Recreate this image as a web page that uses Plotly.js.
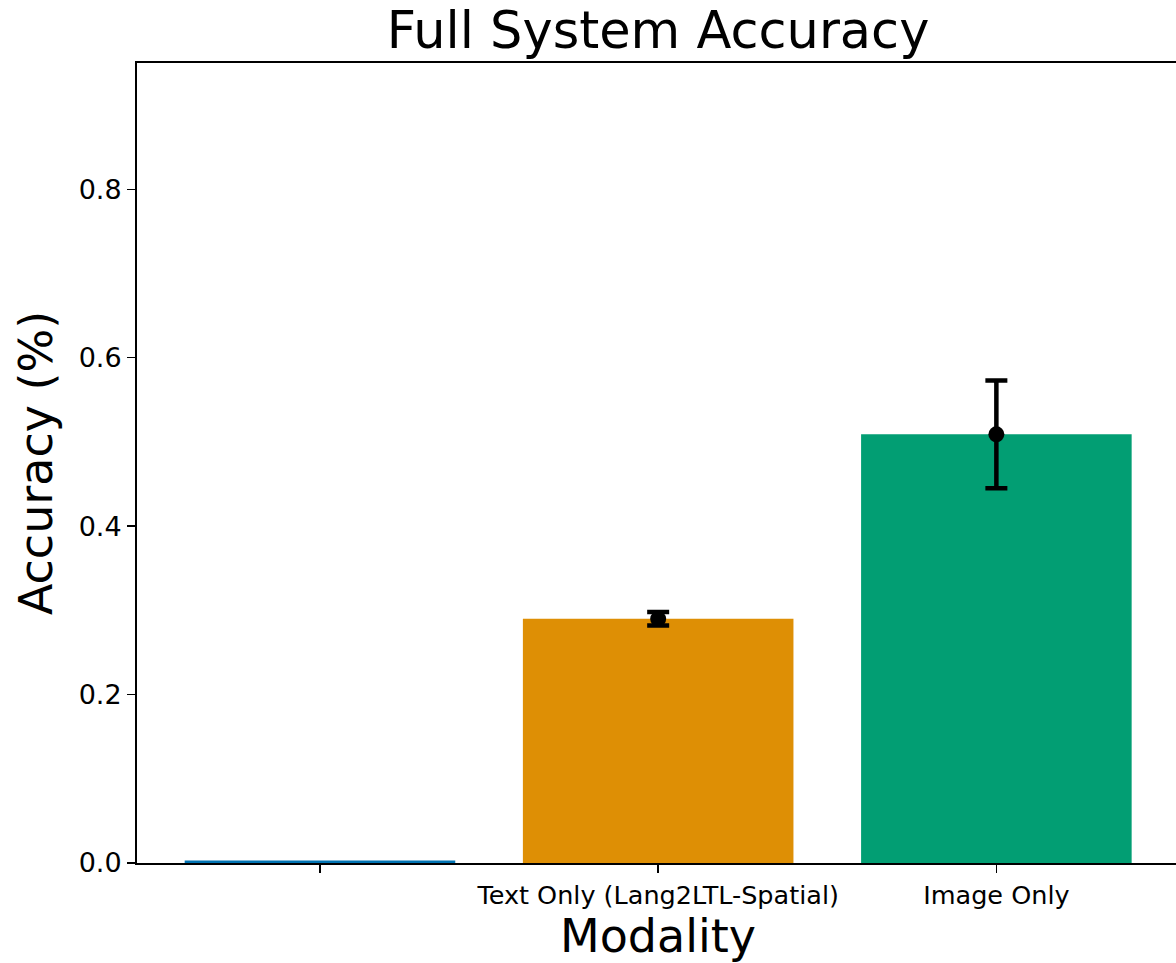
<!DOCTYPE html>
<html>
<head>
<meta charset="utf-8">
<script src="https://cdn.plot.ly/plotly-3.0.1.min.js"></script>
<style>
html,body{margin:0;padding:0;overflow:hidden;background:#fff;}
#chart{width:1180px;height:963px;}
</style>
</head>
<body>
<div id="chart"></div>
<script>
const categories = ["", "Text Only (Lang2LTL-Spatial)", "Image Only"];
const accuracy = [0.003, 0.290, 0.509];
const errors = [null, 0.008, 0.064];
const barColors = ["#0173b2", "#de8f05", "#029e73"];

const xIdx = categories.map((c, i) => i);
const errIdx = xIdx.filter(i => errors[i] !== null);

const font = "DejaVu Sans, sans-serif";

const traces = [
  {
    type: "bar",
    x: xIdx,
    y: accuracy,
    width: 0.8,
    marker: {color: barColors, line: {width: 0}},
    hoverinfo: "skip",
    showlegend: false
  },
  {
    type: "scatter",
    mode: "markers",
    x: errIdx,
    y: errIdx.map(i => accuracy[i]),
    marker: {color: "#000", size: 16},
    error_y: {
      type: "data",
      array: errIdx.map(i => errors[i]),
      visible: true,
      color: "#000",
      thickness: 4.5,
      width: 11
    },
    showlegend: false
  }
];

const layout = {
  width: 1180,
  height: 963,
  margin: {l: 137, r: 1, t: 63, b: 100},
  paper_bgcolor: "#fff",
  plot_bgcolor: "#fff",
  font: {family: font, color: "#000"},
  title: {
    text: "Full System Accuracy",
    font: {family: font, size: 51, color: "#000"},
    x: 0.5, xanchor: "center", xref: "paper",
    y: 0.969, yanchor: "middle", yref: "container"
  },
  xaxis: {
    range: [-0.541, 2.54],
    tickmode: "array",
    tickvals: xIdx,
    ticktext: categories,
    ticks: "outside",
    ticklen: 8,
    tickwidth: 1.5,
    tickcolor: "#000",
    tickfont: {family: font, size: 25.5, color: "#000"},
    showline: true,
    linecolor: "#000",
    linewidth: 2,
    mirror: true,
    showgrid: false,
    zeroline: false,
    title: {text: "Modality", font: {family: font, size: 46, color: "#000"}, standoff: 10}
  },
  yaxis: {
    range: [0, 0.95],
    tickvals: [0, 0.2, 0.4, 0.6, 0.8],
    ticktext: ["0.0", "0.2", "0.4", "0.6", "0.8"],
    ticks: "outside",
    ticklen: 8,
    tickwidth: 1.5,
    tickcolor: "#000",
    tickfont: {family: font, size: 27, color: "#000"},
    showline: true,
    linecolor: "#000",
    linewidth: 2,
    mirror: true,
    showgrid: false,
    zeroline: false,
    title: {text: "Accuracy (%)", font: {family: font, size: 46, color: "#000"}, standoff: 12}
  },
  bargap: 0.2
};

Plotly.newPlot("chart", traces, layout, {displayModeBar: false, staticPlot: true});
</script>
</body>
</html>
